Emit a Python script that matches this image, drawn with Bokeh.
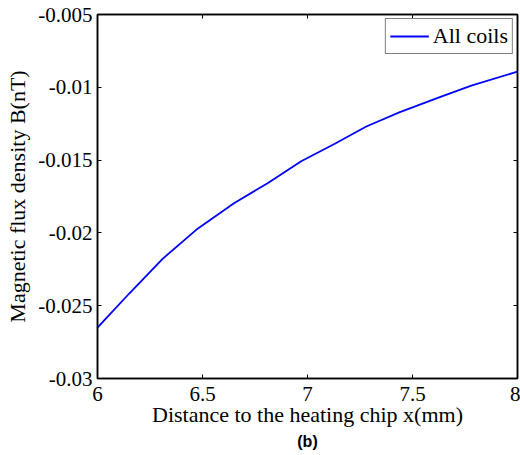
from bokeh.plotting import figure
from bokeh.models import LinearAxis, FixedTicker, Range1d, Title, Legend, LegendItem
from bokeh.embed import file_html
from bokeh.resources import INLINE

# Data
distance_mm = [6.0, 6.15, 6.31, 6.47, 6.65, 6.81, 6.97, 7.13, 7.28, 7.44, 7.63, 7.78, 8.0]
b_all_coils = [-0.0265, -0.02418, -0.02178, -0.01979, -0.01796, -0.01659, -0.01508,
               -0.01388, -0.01269, -0.01171, -0.01068, -0.00988, -0.00892]

x_ticks = [6, 6.5, 7, 7.5, 8]
x_tick_labels = ["6", "6.5", "7", "7.5", "8"]
y_ticks = [-0.03, -0.025, -0.02, -0.015, -0.01, -0.005]
y_tick_labels = ["-0.03", "-0.025", "-0.02", "-0.015", "-0.01", "-0.005"]

SERIF = "Liberation Serif"

p = figure(frame_width=420, frame_height=364, output_backend="svg", toolbar_location=None,
           x_range=Range1d(6, 8), y_range=Range1d(-0.03, -0.005),
           x_axis_location=None, y_axis_location=None,
           min_border_left=97, min_border_right=3, min_border_top=14, min_border_bottom=60)
p.grid.visible = False
p.outline_line_color = "black"
p.outline_line_width = 1.5
p.background_fill_color = "white"
p.border_fill_color = "white"


def style(ax, labels, ticks, show, tick_standoff=5, label_standoff=2):
    ax.ticker = FixedTicker(ticks=ticks)
    ax.major_label_overrides = {t: l for t, l in zip(ticks, labels)}
    ax.major_tick_in = 4
    ax.major_tick_out = 0
    ax.minor_tick_line_color = None
    ax.axis_line_color = "black"
    ax.axis_line_width = 1.5
    ax.major_tick_line_color = "black"
    ax.major_tick_line_width = 1
    if show:
        ax.major_label_text_font = SERIF
        ax.major_label_text_font_size = "21px"
        ax.major_label_text_color = "black"
        ax.major_label_standoff = tick_standoff
        ax.axis_label_text_font = SERIF
        ax.axis_label_text_font_size = "22px"
        ax.axis_label_text_font_style = "normal"
        ax.axis_label_text_color = "black"
        ax.axis_label_standoff = label_standoff
    else:
        ax.major_label_text_font_size = "0px"
        ax.major_label_standoff = 0


xb = LinearAxis(axis_label="Distance to the heating chip x(mm)")
style(xb, x_tick_labels, x_ticks, True, tick_standoff=8, label_standoff=-2)
yl = LinearAxis(axis_label="Magnetic flux density B(nT)")
style(yl, y_tick_labels, y_ticks, True, tick_standoff=5, label_standoff=5)
xt = LinearAxis()
style(xt, x_tick_labels, x_ticks, False)
yr = LinearAxis()
style(yr, y_tick_labels, y_ticks, False)

p.add_layout(xb, "below")
p.add_layout(yl, "left")
p.add_layout(xt, "above")
p.add_layout(yr, "right")

r = p.line(distance_mm, b_all_coils, line_color="#0000ff", line_width=1.8)

legend = Legend(items=[LegendItem(label="All coils", renderers=[r])], location="top_right")
legend.label_text_font = SERIF
legend.label_text_font_size = "22px"
legend.label_text_color = "black"
legend.border_line_color = "black"
legend.border_line_width = 1
legend.margin = 4
legend.padding = 4
legend.spacing = 0
legend.glyph_width = 39
legend.glyph_height = 20
legend.label_standoff = 4
legend.label_height = 20
p.add_layout(legend)

p.add_layout(Title(text="(b)", align="center", text_font="Liberation Sans", standoff=3,
                   text_font_style="bold", text_font_size="16px", text_color="black"), "below")

open("out.html", "w").write(file_html(p, INLINE))
